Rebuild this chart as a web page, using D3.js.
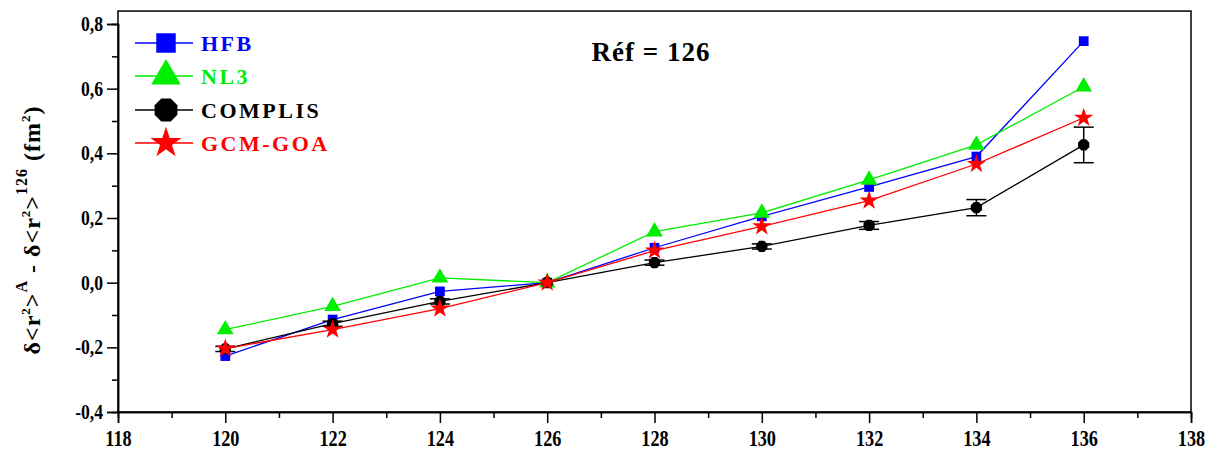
<!DOCTYPE html>
<html><head><meta charset="utf-8">
<script src="https://cdn.jsdelivr.net/npm/d3@7"></script>
<style>
html,body{margin:0;padding:0;background:#fff;}
svg text{font-family:"Liberation Serif","Times New Roman",serif;font-weight:bold;}
</style></head>
<body><svg id="c" width="1213" height="455"></svg>
<script>
const massNumbers = [120, 122, 124, 126, 128, 130, 132, 134, 136];
const hfb     = [-0.227, -0.114, -0.027, 0.0, 0.108, 0.205, 0.296, 0.390, 0.747];
const nl3     = [-0.145, -0.073,  0.015, 0.0, 0.158, 0.216, 0.318, 0.426, 0.606];
const complis = [-0.205, -0.127, -0.058, 0.0, 0.062, 0.112, 0.177, 0.232, 0.426];
const complisErr = [0.008, 0.008, 0.008, 0.0, 0.008, 0.008, 0.012, 0.025, 0.055];
const gcmgoa  = [-0.204, -0.145, -0.080, 0.0, 0.099, 0.174, 0.254, 0.367, 0.510];
const seriesNames = ["HFB", "NL3", "COMPLIS", "GCM-GOA"];
const xTicks = [118, 120, 122, 124, 126, 128, 130, 132, 134, 136, 138];
const xMinor = [119, 121, 123, 125, 127, 129, 131, 133, 135, 137];
const yTicks = [-0.4, -0.2, 0.0, 0.2, 0.4, 0.6, 0.8];
const yMinor = [-0.3, -0.1, 0.1, 0.3, 0.5, 0.7];
const refLabel = "Réf = 126";

const svg = d3.select("#c");
const x = d3.scaleLinear().domain([118, 138]).range([118, 1191]);
const y = d3.scaleLinear().domain([-0.4, 0.8]).range([412, 24]);
const yTop = y(0.84);

const fmt = d => d3.format(".1f")(d).replace(".", ",").replace("\u2212", "-");

// frame
svg.append("rect").attr("x", x(118)).attr("y", yTop).attr("width", x(138) - x(118)).attr("height", y(-0.4) - yTop)
  .attr("fill", "none").attr("stroke", "#000").attr("stroke-width", 1.5);

// axes
const gx = svg.append("g").attr("transform", `translate(0,${y(-0.4)})`)
  .call(d3.axisBottom(x).tickValues(xTicks).tickSize(11).tickPadding(3).tickFormat(d3.format("d")));
const gxm = svg.append("g").attr("transform", `translate(0,${y(-0.4)})`)
  .call(d3.axisBottom(x).tickValues(xMinor).tickSize(6).tickFormat(""));
const gy = svg.append("g").attr("transform", `translate(${x(118)},0)`)
  .call(d3.axisLeft(y).tickValues(yTicks).tickSize(11).tickPadding(4).tickFormat(fmt));
const gym = svg.append("g").attr("transform", `translate(${x(118)},0)`)
  .call(d3.axisLeft(y).tickValues(yMinor).tickSize(6).tickFormat(""));
[gx, gxm, gy, gym].forEach(g => {
  g.attr("font-family", null);
  g.select(".domain").attr("stroke-width", 1.5);
  g.selectAll(".tick line").attr("stroke-width", 1.5);
  g.selectAll("text").attr("fill", "#000");
});
const condense = (sel, k) => sel.each(function () {
  const w = this.getComputedTextLength();
  d3.select(this).attr("textLength", w * k).attr("lengthAdjust", "spacingAndGlyphs");
});
condense(gy.selectAll("text").attr("font-size", 20), 0.88);
condense(gx.selectAll("text").attr("font-size", 24).attr("dy", "0.82em"), 0.76);

// y axis title
const yt = svg.append("text").attr("transform", `translate(40,${(y(-0.4)+y(0.8))/2 + 12}) rotate(-90)`)
  .attr("text-anchor", "middle").attr("font-size", 24).attr("letter-spacing", 1).attr("fill", "#000");
yt.append("tspan").text("δ<r");
yt.append("tspan").attr("font-size", 13).attr("dy", -10).text("2");
yt.append("tspan").attr("dy", 10).text(">");
yt.append("tspan").attr("font-size", 16).attr("dy", -13).text("A");
yt.append("tspan").attr("dy", 13).text(" - δ<r");
yt.append("tspan").attr("font-size", 13).attr("dy", -10).text("2");
yt.append("tspan").attr("dy", 10).text(">");
yt.append("tspan").attr("font-size", 16).attr("dy", -13).text("126");
yt.append("tspan").attr("dy", 13).text(" (fm");
yt.append("tspan").attr("font-size", 13).attr("dy", -10).text("2");
yt.append("tspan").attr("dy", 10).text(")");

// ref label
svg.append("text").attr("x", 651).attr("y", 61).attr("text-anchor", "middle")
  .attr("font-size", 27).attr("letter-spacing", 1).attr("fill", "#000").text(refLabel);

const octagon = {
  draw(ctx, size) {
    const r = Math.sqrt(size / 2.828);
    for (let i = 0; i < 8; i++) {
      const a = Math.PI / 8 + i * Math.PI / 4;
      const px = r * Math.cos(a), py = r * Math.sin(a);
      if (i === 0) ctx.moveTo(px, py); else ctx.lineTo(px, py);
    }
    ctx.closePath();
  }
};

const series = [
  {name: seriesNames[0], vals: hfb, color: "#0000ff", sym: d3.symbolSquare, size: 95, lsize: 380},
  {name: seriesNames[1], vals: nl3, color: "#00ee00", sym: d3.symbolTriangle, size: 120, lsize: 380},
  {name: seriesNames[2], vals: complis, color: "#000000", sym: octagon, size: 105, lsize: 430, err: complisErr},
  {name: seriesNames[3], vals: gcmgoa, color: "#ff0000", sym: d3.symbolStar, size: 115, lsize: 300}
];

const line = d3.line().x(d => x(d[0])).y(d => y(d[1]));
series.forEach(s => {
  const pts = massNumbers.map((m, i) => [m, s.vals[i]]);
  svg.append("path").datum(pts).attr("d", line).attr("fill", "none")
    .attr("stroke", s.color).attr("stroke-width", 1.3);
  if (s.err) {
    const eg = svg.append("g").attr("stroke", s.color).attr("stroke-width", 1.5);
    pts.forEach((p, i) => {
      const e = s.err[i];
      if (!e) return;
      eg.append("line").attr("x1", x(p[0])).attr("x2", x(p[0])).attr("y1", y(p[1] - e)).attr("y2", y(p[1] + e));
      [p[1] - e, p[1] + e].forEach(v => eg.append("line").attr("x1", x(p[0]) - 10).attr("x2", x(p[0]) + 10)
        .attr("y1", y(v)).attr("y2", y(v)));
    });
  }
  svg.append("g").selectAll("path").data(pts).join("path")
    .attr("transform", d => `translate(${x(d[0])},${y(d[1])})`)
    .attr("d", d3.symbol().type(s.sym).size(s.size)).attr("fill", s.color);
});

// legend
const legY = [43, 76, 110, 143];
series.forEach((s, i) => {
  const g = svg.append("g").attr("transform", `translate(0,${legY[i]})`);
  g.append("line").attr("x1", 135).attr("x2", 193).attr("stroke", s.color).attr("stroke-width", 1.5);
  g.append("path").attr("transform", "translate(166,0)").attr("d", d3.symbol().type(s.sym).size(s.lsize)).attr("fill", s.color);
  g.append("text").attr("x", 201).attr("y", 8).attr("font-size", 22).attr("fill", s.color)
    .attr("letter-spacing", 2.5).text(s.name);
});
</script></body></html>
